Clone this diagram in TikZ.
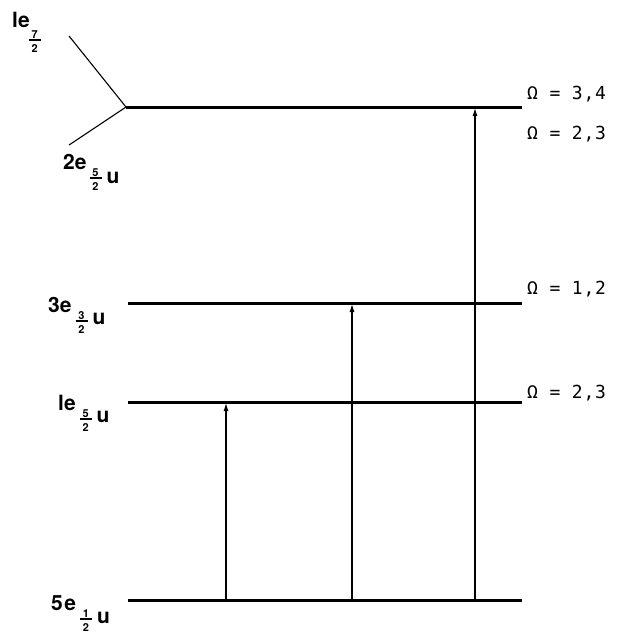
\documentclass[tikz,border=0pt]{standalone}
\usepackage{fontspec}
\setmainfont{TeX Gyre Heros}
\newfontfamily\omfont[LetterSpace=4]{DejaVu Sans Mono}
\usetikzlibrary{arrows.meta}
\newcommand{\frc}[2]{{\fontsize{11}{11}\selectfont\raisebox{-9pt}{\makebox[12pt][c]{\raisebox{2pt}{#1}}\llap{\rule[-0.7pt]{12pt}{1.4pt}}\llap{\makebox[12pt][c]{\raisebox{-12pt}{#2}}}}}}
\begin{document}
\begin{tikzpicture}[x=1pt,y=-1pt,
  level/.style={line width=3pt},
  thin/.style={line width=1.1pt},
  trans/.style={line width=1.1pt,-{Latex[length=8pt,width=5pt]}},
  lab/.style={anchor=base west,inner sep=0pt,font=\bfseries\fontsize{21}{24}\selectfont},
  om/.style={anchor=base west,inner sep=0pt,font=\omfont\fontsize{18}{20}\selectfont}]
\useasboundingbox (0,0) rectangle (628,633);
% level end points
\coordinate (v) at (126,107);
\coordinate (Ltr) at (522,107);
\coordinate (f1) at (69,36);
\coordinate (f2) at (69,145);
\coordinate (L3l) at (128,303);
\coordinate (L3r) at (522,303);
\coordinate (L2l) at (128,402);
\coordinate (L2r) at (522,402);
\coordinate (L1l) at (128,600);
\coordinate (L1r) at (522,600);
% arrow end points
\coordinate (a1b) at (226,600);
\coordinate (a1t) at (226,403);
\coordinate (a2b) at (352,600);
\coordinate (a2t) at (352,304);
\coordinate (a3b) at (475,600);
\coordinate (a3t) at (475,108);
% levels
\draw[level] (v) -- (Ltr);
\draw[thin] (f1) -- (v) -- (f2);
\draw[level] (L3l) -- (L3r);
\draw[level] (L2l) -- (L2r);
\draw[level] (L1l) -- (L1r);
% transitions
\draw[trans] (a1b) -- (a1t);
\draw[trans] (a2b) -- (a2t);
\draw[trans] (a3b) -- (a3t);
% state labels
\node[lab] (s7) at (12,27) {le\hspace{-1pt}\raisebox{-4pt}{\frc{7}{2}}};
\node[lab] (s5a) at (63,169) {2e\hspace{3pt}\frc{5}{2}\hspace{5pt}\raisebox{-14pt}{u}};
\node[lab] (s3) at (48,312) {3e\hspace{4pt}\frc{3}{2}\hspace{5pt}\raisebox{-12pt}{u}};
\node[lab] (s5b) at (58,410) {le\hspace{4pt}\frc{5}{2}\hspace{5pt}\raisebox{-12pt}{u}};
\node[lab] (s1) at (51,610) {5\hspace{1.5pt}e\hspace{4pt}\frc{1}{2}\hspace{5pt}\raisebox{-13pt}{u}};
% omega labels
\node[om] (o1) at (527,99) {Ω = 3,4};
\node[om] (o2) at (527,139) {Ω = 2,3};
\node[om] (o3) at (527,294) {Ω = 1,2};
\node[om] (o4) at (527,398) {Ω = 2,3};
\end{tikzpicture}
\end{document}
